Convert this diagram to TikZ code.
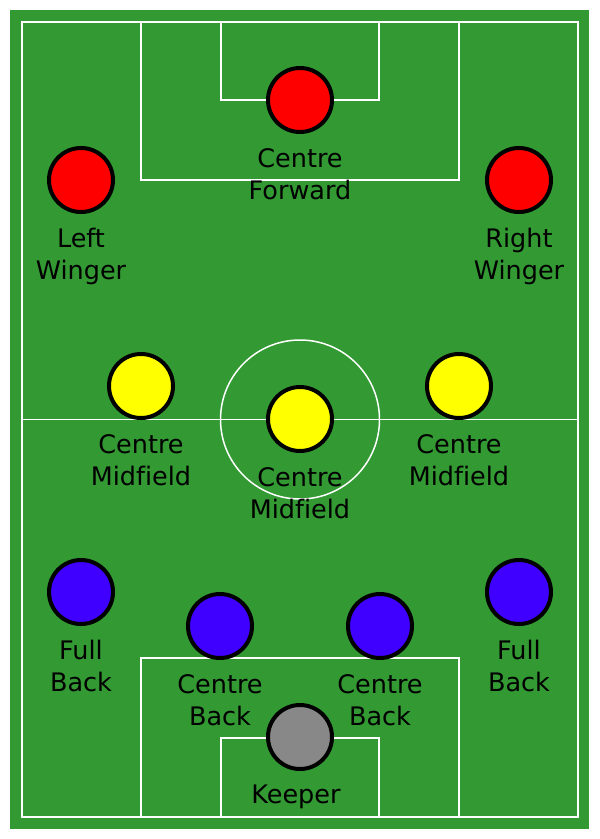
\documentclass[tikz,border=0pt]{standalone}
\usepackage{fontspec}
\setmainfont[Ligatures=NoCommon]{DejaVu Sans}
\usetikzlibrary{positioning}
\definecolor{pitch}{RGB}{51,153,51}
\definecolor{fwd}{RGB}{255,0,0}
\definecolor{mid}{RGB}{255,255,0}
\definecolor{def}{RGB}{64,0,255}
\definecolor{gk}{RGB}{136,136,136}

\begin{document}
\begin{tikzpicture}[x=1pt,y=-1pt,
pl/.style = {% players
    circle, draw=black, line width=4pt, minimum size=64pt, inner sep=0pt,
            },
tl/.style = {% player labels
    align=center, inner sep=0pt, font=\fontsize{25.5}{32}\selectfont,
            },
ln/.style = {% pitch markings
    white, line width=1.5pt,
            },
                        ]
\useasboundingbox (0,0) rectangle (600,839);
% pitch
\fill[pitch] (10,10) rectangle (589,829);
\draw[ln] (22,22) rectangle (578,817);
\draw[ln] (22,419.5) -- (578,419.5);
\draw[ln] (300,419.5) circle[radius=79.5];
% boxes
\draw[ln] (141,22) rectangle (459,180);
\draw[ln] (221,22) rectangle (379,100);
\draw[ln] (141,817) rectangle (459,658);
\draw[ln] (221,817) rectangle (379,738);
% players
\foreach \n/\x/\y/\c/\t in
       {cf/300/100/fwd/{Centre\\Forward},
        lw/81/180/fwd/{Left\\Winger},
        rw/519/180/fwd/{Right\\Winger},
        cml/141/386/mid/{Centre\\Midfield},
        cmc/300/419/mid/{Centre\\Midfield},
        cmr/459/386/mid/{Centre\\Midfield},
        fbl/81/592/def/{Full\\Back},
        cbl/220/626/def/{Centre\\Back},
        cbr/380/626/def/{Centre\\Back},
        fbr/519/592/def/{Full\\Back},
        kp/300/737/gk/{Keeper}
        }{\node[pl,fill=\c] (\n) at (\x,\y) {};
          \node[tl,below=14pt of \n] (\n-l) {\t};}
    \end{tikzpicture}
\end{document}
